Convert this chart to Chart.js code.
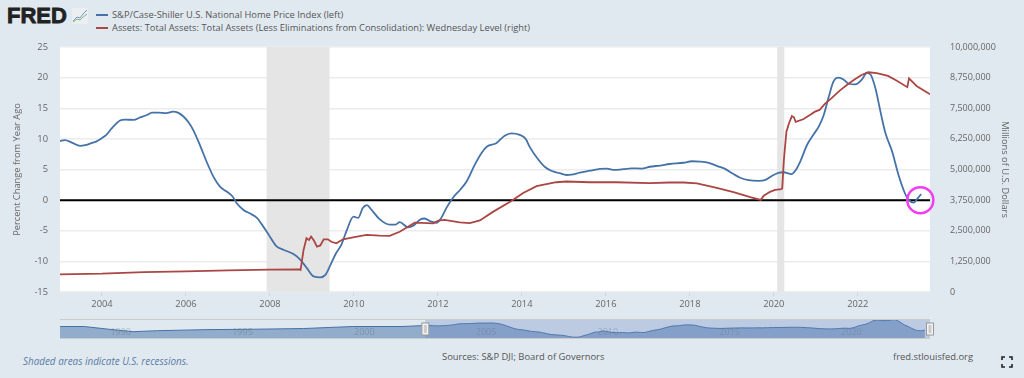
<!DOCTYPE html>
<html>
<head>
<meta charset="utf-8">
<title>FRED</title>
<script src="https://cdn.jsdelivr.net/npm/chart.js@4"></script>
<style>
    html, body { margin: 0; padding: 0; background: #e1e9f0; overflow: hidden; }
    body { width: 1024px; height: 378px; position: relative; font-family: "Open Sans", sans-serif; }
    canvas { position: absolute; left: 0; }
    #myChart { top: 0; }
    #navChart { top: 315px; }
    .txt { position: absolute; white-space: nowrap; color: #555; font-size: 9.4px; line-height: 14px; }
    .logo { position: absolute; left: 7px; top: 4px; font: 900 22px/24px "Liberation Sans", sans-serif; color: #222; -webkit-text-stroke: 0.8px #222; }
    .swatch { position: absolute; left: 96px; width: 12px; height: 2px; }
</style>
</head>
<body>
<div class="logo">FRED</div>
<svg style="position:absolute;left:72px;top:8px" width="16" height="16">
    <rect width="16" height="16" rx="1" fill="#eceff1"/>
    <polyline points="1,13 5,9 8,10 11,6 15,2" fill="none" stroke="#6b9bc8" stroke-width="1"/>
    <polyline points="1,14 5,11 8,12 11,9 15,6" fill="none" stroke="#8fb07a" stroke-width="1"/>
</svg>
<div class="swatch" style="top:14px;background:#4572a7"></div>
<div class="swatch" style="top:27px;background:#aa4643"></div>
<div class="txt" style="left:112px;top:8px;font-size:9.33px">S&amp;P/Case-Shiller U.S. National Home Price Index (left)</div>
<div class="txt" style="left:112px;top:21px;font-size:9.33px">Assets: Total Assets: Total Assets (Less Eliminations from Consolidation): Wednesday Level (right)</div>
<canvas id="myChart" width="1024" height="312"></canvas>
<canvas id="navChart" width="1024" height="26"></canvas>
<div class="txt" style="left:23px;top:354px;font-size:9.9px;font-style:italic;color:#5a7ba6">Shaded areas indicate U.S. recessions.</div>
<div class="txt" style="left:442px;top:350px">Sources: S&amp;P DJI; Board of Governors</div>
<div class="txt" style="left:893px;top:350px">fred.stlouisfed.org</div>
<svg style="position:absolute;left:1001px;top:356px" width="12" height="12" fill="none" stroke="#222" stroke-width="1.6">
    <path d="M1 4V1H4M8 1H11V4M11 8V11H8M4 11H1V8"/>
</svg>
<script>
const homeYears = [2003, 2003.12, 2003.28, 2003.48, 2003.6, 2003.72, 2003.87, 2003.99, 2004.11, 2004.23, 2004.43, 2004.55, 2004.75, 2004.91, 2005.07, 2005.19, 2005.34, 2005.54, 2005.69, 2005.82, 2005.94, 2006.06, 2006.18, 2006.34, 2006.5, 2006.66, 2006.81, 2006.97, 2007.11, 2007.21, 2007.37, 2007.53, 2007.69, 2007.81, 2007.97, 2008.16, 2008.32, 2008.56, 2008.72, 2008.88, 2009.04, 2009.2, 2009.32, 2009.44, 2009.58, 2009.7, 2009.82, 2009.99, 2010.1, 2010.21, 2010.31, 2010.41, 2010.61, 2010.85, 2010.99, 2011.09, 2011.29, 2011.41, 2011.57, 2011.68, 2011.84, 2011.96, 2012.08, 2012.2, 2012.36, 2012.53, 2012.68, 2012.88, 2013.04, 2013.17, 2013.39, 2013.59, 2013.75, 2013.95, 2014.09, 2014.19, 2014.35, 2014.55, 2014.7, 2014.9, 2015.06, 2015.18, 2015.38, 2015.62, 2015.86, 2016.02, 2016.17, 2016.41, 2016.61, 2016.85, 2017.05, 2017.29, 2017.52, 2017.85, 2018.05, 2018.25, 2018.45, 2018.64, 2018.84, 2019.04, 2019.2, 2019.4, 2019.64, 2019.8, 2019.95, 2020.11, 2020.23, 2020.42, 2020.51, 2020.63, 2020.79, 2020.95, 2021.07, 2021.19, 2021.31, 2021.42, 2021.54, 2021.66, 2021.78, 2021.94, 2022.1, 2022.22, 2022.31, 2022.42, 2022.54, 2022.66, 2022.82, 2022.97, 2023.13, 2023.21, 2023.33, 2023.41, 2023.51];
const homeValues = [9.67, 9.78, 9.4, 8.86, 8.97, 9.24, 9.6, 10.1, 10.7, 11.7, 13, 13.15, 13.1, 13.5, 13.9, 14.3, 14.3, 14.2, 14.45, 14.25, 13.65, 12.7, 11.35, 8.86, 6.14, 3.75, 2.2, 1.4, 0.6, -0.5, -1.6, -2.2, -2.9, -4, -5.65, -7.55, -8.1, -8.8, -9.7, -11.1, -12.45, -12.6, -12.2, -10.6, -8.6, -7.3, -5.1, -2.7, -2.9, -1.3, -0.8, -1.5, -3.1, -4, -4, -3.6, -4.45, -4.2, -3.2, -3, -3.5, -3.7, -2.9, -1.3, 0.4, 1.7, 3, 5.8, 7.7, 8.75, 9.3, 10.5, 10.9, 10.65, 10, 8.65, 7, 5.4, 4.8, 4.4, 4.1, 4.15, 4.5, 4.8, 5.1, 5.15, 4.95, 5.05, 5.2, 5.15, 5.45, 5.65, 5.9, 6.1, 6.35, 6.3, 6.1, 5.6, 5.1, 4.25, 3.65, 3.25, 3.15, 3.3, 3.95, 4.45, 4.55, 4.25, 4.8, 6.3, 9, 10.75, 12, 13.9, 16.9, 19.35, 20, 19.7, 19, 18.9, 19.7, 20.8, 20.45, 18.25, 14.45, 10.9, 7.9, 4.1, 1, 0.05, -0.4, 0.15, 1];

const assetYears = [2003, 2004, 2005, 2006, 2007, 2008, 2008.7, 2008.73, 2008.8, 2008.87, 2008.93, 2008.98, 2009.04, 2009.12, 2009.2, 2009.28, 2009.38, 2009.46, 2009.58, 2009.74, 2009.98, 2010.3, 2010.61, 2010.85, 2011.09, 2011.45, 2011.89, 2012.01, 2012.16, 2012.52, 2012.76, 2013, 2013.31, 2013.75, 2014.03, 2014.35, 2014.82, 2015.06, 2015.62, 2016.25, 2017.05, 2017.52, 2017.85, 2018.17, 2018.64, 2019.04, 2019.44, 2019.69, 2019.76, 2019.91, 2020.03, 2020.18, 2020.2, 2020.24, 2020.3, 2020.36, 2020.43, 2020.48, 2020.52, 2020.7, 2020.86, 2020.98, 2021.09, 2021.21, 2021.37, 2021.57, 2021.77, 2021.93, 2022.09, 2022.25, 2022.45, 2022.72, 2022.92, 2023.18, 2023.22, 2023.4, 2023.72];
const assetValues = [720000, 747000, 815000, 842000, 883000, 910000, 924000, 900000, 1710000, 2190000, 2120000, 2260000, 2120000, 1850000, 1900000, 2150000, 2150000, 2050000, 1990000, 2150000, 2230000, 2330000, 2300000, 2290000, 2460000, 2830000, 2800000, 2910000, 2940000, 2840000, 2810000, 2920000, 3270000, 3710000, 4040000, 4320000, 4480000, 4510000, 4480000, 4480000, 4440000, 4470000, 4470000, 4430000, 4250000, 4080000, 3870000, 3760000, 3930000, 4090000, 4170000, 4200000, 4230000, 5390000, 6540000, 6880000, 7180000, 7130000, 6940000, 7050000, 7220000, 7360000, 7430000, 7670000, 7900000, 8220000, 8490000, 8680000, 8860000, 8970000, 8930000, 8820000, 8630000, 8360000, 8720000, 8410000, 8070000];

// earlier part of the home price series, only visible in the navigator
const navEarlyYears = [1988, 1989, 1990, 1991, 1992, 1994, 1996, 1998, 2000, 2002];
const navEarlyValues = [7.7, 7.7, 2.6, -2.1, -0.2, 1.8, 2.6, 3.9, 7.7, 7.7];

const recessionStarts = [2007.92, 2020.08];
const recessionEnds = [2009.42, 2020.25];

const yearTicks = [2004, 2006, 2008, 2010, 2012, 2014, 2016, 2018, 2020, 2022];
const navYearTicks = [1990, 1995, 2000, 2005, 2010, 2015, 2020];
const leftTicks = [-15, -10, -5, 0, 5, 10, 15, 20, 25];
const rightTicks = [0, 1250000, 2500000, 3750000, 5000000, 6250000, 7500000, 8750000, 10000000];

const zeroYears = [2003, 2023.72];
const zeroValues = [0, 0];
const markerYear = [2023.49];
const markerValue = [0];

const tickFont = { family: '"Open Sans", sans-serif', size: 9.3 };
const tickColor = '#666666';
const gridColor = '#ececec';

function toPoints(xs, ys) {
    return xs.map(function (x, i) {
        return { x: x, y: ys[i] };
    });
}

function setTicks(list) {
    return function (scale) {
        scale.ticks = list.map(function (v) {
            return { value: v };
        });
    };
}

// white plot background and the grey recession bands, under the lines
const bandsPlugin = {
    id: 'bands',
    beforeDraw: function (chart) {
        const a = chart.chartArea;
        chart.ctx.fillStyle = '#ffffff';
        chart.ctx.fillRect(a.left, a.top, a.width, a.height);
    },
    beforeDatasetsDraw: function (chart) {
        const a = chart.chartArea;
        const x = chart.scales.x;
        chart.ctx.fillStyle = '#e5e5e5';
        recessionStarts.forEach(function (start, i) {
            const x0 = x.getPixelForValue(start);
            const x1 = x.getPixelForValue(recessionEnds[i]);
            chart.ctx.fillRect(x0, a.top, x1 - x0, a.height);
        });
    }
};

// navigator year labels, selection mask, outline and the two handles
const maskPlugin = {
    id: 'mask',
    afterDatasetsDraw: function (chart) {
        const ctx = chart.ctx;
        const a = chart.chartArea;
        const x = chart.scales.x;
        const x0 = x.getPixelForValue(2003);
        const x1 = x.getPixelForValue(2023.72);

        ctx.font = '9px "Open Sans", sans-serif';
        ctx.fillStyle = 'rgba(90,100,110,0.35)';
        ctx.textAlign = 'center';
        ctx.textBaseline = 'middle';
        navYearTicks.forEach(function (year) {
            ctx.fillText(String(year), x.getPixelForValue(year) + 12, a.top + 13);
        });

        ctx.fillStyle = 'rgba(102,133,194,0.3)';
        ctx.fillRect(x0, a.top, x1 - x0, a.height);
        ctx.strokeStyle = '#cccccc';
        ctx.lineWidth = 1;
        ctx.beginPath();
        ctx.moveTo(a.left, a.top + 0.5);
        ctx.lineTo(a.right, a.top + 0.5);
        ctx.moveTo(a.left, a.bottom - 0.5);
        ctx.lineTo(a.right, a.bottom - 0.5);
        ctx.stroke();
        [x0, x1].forEach(function (hx) {
            ctx.fillStyle = '#f2f2f2';
            ctx.strokeStyle = '#999999';
            ctx.fillRect(hx - 3.5, a.top + 4, 7, 12);
            ctx.strokeRect(hx - 3.5, a.top + 4, 7, 12);
            ctx.fillStyle = '#cccccc';
            ctx.fillRect(hx - 1.5, a.top + 6, 3, 8);
        });
    }
};

window.addEventListener('load', function () {
    new Chart(document.getElementById('myChart').getContext('2d'), {
        type: 'line',
        data: {
            datasets: [{
                // pink circle around the last reading
                data: toPoints(markerYear, markerValue),
                yAxisID: 'y',
                showLine: false,
                pointRadius: 13,
                pointBorderWidth: 2.5,
                pointBorderColor: '#f23cf2',
                pointBackgroundColor: 'transparent',
                clip: false
            }, {
                label: 'Assets: Total Assets: Total Assets (Less Eliminations from Consolidation): Wednesday Level (right)',
                data: toPoints(assetYears, assetValues),
                yAxisID: 'y1',
                borderColor: '#aa4643',
                borderWidth: 1.8,
                pointRadius: 0,
                tension: 0
            }, {
                label: 'S&P/Case-Shiller U.S. National Home Price Index (left)',
                data: toPoints(homeYears, homeValues),
                yAxisID: 'y',
                borderColor: '#4572a7',
                borderWidth: 1.8,
                pointRadius: 0,
                cubicInterpolationMode: 'monotone'
            }, {
                data: toPoints(zeroYears, zeroValues),
                yAxisID: 'y',
                borderColor: '#000000',
                borderWidth: 2,
                pointRadius: 0
            }]
        },
        options: {
            responsive: false,
            animation: false,
            layout: { padding: { top: 47 } },
            plugins: { legend: { display: false }, tooltip: { enabled: false } },
            scales: {
                x: {
                    type: 'linear',
                    min: 2003,
                    max: 2023.72,
                    afterBuildTicks: setTicks(yearTicks),
                    afterFit: function (scale) { scale.height = 20; },
                    border: { display: false },
                    grid: { drawOnChartArea: false, tickLength: 4, tickColor: '#ccd6eb' },
                    ticks: {
                        font: tickFont,
                        color: tickColor,
                        padding: 3,
                        maxRotation: 0,
                        callback: function (v) { return String(v); }
                    }
                },
                y: {
                    position: 'left',
                    min: -15,
                    max: 25,
                    afterBuildTicks: setTicks(leftTicks),
                    afterFit: function (scale) { scale.width = 60; },
                    border: { display: false },
                    grid: { color: gridColor, lineWidth: 1.5, drawTicks: false },
                    ticks: { font: tickFont, color: tickColor, padding: 12 },
                    title: {
                        display: true,
                        text: 'Percent Change from Year Ago',
                        font: tickFont,
                        color: tickColor,
                        padding: { top: 12, bottom: 0 }
                    }
                },
                y1: {
                    position: 'right',
                    min: 0,
                    max: 10000000,
                    afterBuildTicks: setTicks(rightTicks),
                    afterFit: function (scale) { scale.width = 94; },
                    border: { display: false },
                    grid: { display: false },
                    ticks: {
                        font: { family: '"Open Sans", sans-serif', size: 9 },
                        color: tickColor,
                        padding: 12,
                        callback: function (v) { return v.toLocaleString('en-US'); }
                    },
                    title: {
                        display: true,
                        text: 'Millions of U.S. Dollars',
                        font: tickFont,
                        color: tickColor,
                        padding: { top: 14, bottom: 0 }
                    }
                }
            }
        },
        plugins: [bandsPlugin]
    });

    new Chart(document.getElementById('navChart').getContext('2d'), {
        type: 'line',
        data: {
            datasets: [{
                data: toPoints(navEarlyYears.concat(homeYears), navEarlyValues.concat(homeValues)),
                borderColor: '#4572a7',
                borderWidth: 1,
                backgroundColor: '#92adcb',
                fill: 'start',
                pointRadius: 0
            }]
        },
        options: {
            responsive: false,
            animation: false,
            layout: { padding: { top: 4 } },
            plugins: { legend: { display: false }, tooltip: { enabled: false } },
            scales: {
                x: {
                    type: 'linear',
                    min: 1988,
                    max: 2023.72,
                    afterFit: function (scale) { scale.height = 2; },
                    border: { display: false },
                    grid: { display: false },
                    ticks: { display: false }
                },
                y: {
                    min: -16,
                    max: 22,
                    afterFit: function (scale) { scale.width = 60; },
                    border: { display: false },
                    grid: { display: false },
                    ticks: { display: false }
                },
                yPad: {
                    position: 'right',
                    afterFit: function (scale) { scale.width = 94; },
                    border: { display: false },
                    grid: { display: false },
                    ticks: { display: false }
                }
            }
        },
        plugins: [maskPlugin]
    });
});
</script>
</body>
</html>
